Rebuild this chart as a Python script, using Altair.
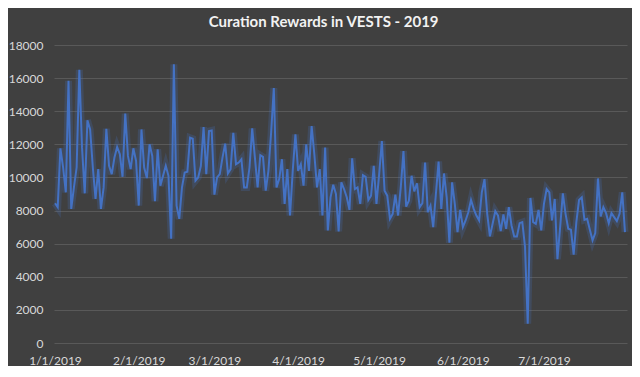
import altair as alt
import pandas as pd

jan = [8440, 8200, 11760, 10600, 9100, 15840, 8100, 9400, 10600, 16500, 11800,
       9040, 13460, 12900, 10600, 8700, 10500, 8100, 9400, 12940, 10700, 10200,
       11200, 11840, 11400, 10040, 13860, 11300, 10500, 11760, 11000]
feb = [8300, 12900, 10600, 9960, 12000, 11300, 8560, 11700, 9500, 10100, 10700,
       10100, 6300, 16840, 8300, 7500, 9400, 10300, 10340, 12400, 12340, 9800,
       10000, 10700, 13040, 10200, 12800, 12840]
mar = [8960, 10000, 10200, 11200, 12040, 10240, 10500, 12700, 10800, 10900, 11100,
       9400, 9400, 10600, 12960, 11200, 9400, 11340, 11240, 9200, 10400, 12700,
       15400, 9400, 9900, 11100, 8400, 10500, 7700, 10400, 12600]
apr = [10400, 10800, 9500, 12000, 10400, 13100, 11400, 9400, 10500, 7700, 11800,
       6800, 8800, 9560, 9000, 6740, 9700, 9300, 8800, 8040, 11160, 9300, 9400,
       8400, 10140, 10040, 8640, 8900, 10700, 8400]
may = [10200, 12200, 9200, 8900, 7500, 7800, 8960, 7700, 9400, 11600, 8240, 8600,
       10100, 9160, 9640, 8200, 8440, 10900, 7900, 8300, 7000, 9000, 10960, 8100,
       10240, 8800, 6060, 9700, 8400, 6700, 8040]
jun = [7000, 7400, 7900, 8640, 8100, 7700, 7400, 9100, 9900, 7800, 6440, 7200,
       7960, 7700, 6760, 7760, 6900, 8200, 7100, 6440, 6440, 7240, 7300, 5800,
       1160, 8760, 7300, 7200, 8040, 6800]
jul = [8400, 9300, 9100, 7400, 8700, 5060, 7000, 9040, 7800, 6900, 6840, 5340,
       7300, 8640, 8800, 7440, 7500, 6840, 6200, 6640, 9940, 7640, 8200, 7840,
       7240, 7840, 7600, 7360, 7800, 9100, 6700]

y_ticks = [0, 2000, 4000, 6000, 8000, 10000, 12000, 14000, 16000, 18000]
x_tick_months = [1, 2, 3, 4, 5, 6, 7]

values = jan + feb + mar + apr + may + jun + jul
dates = pd.date_range("2019-01-01", periods=len(values), freq="D").strftime("%Y-%m-%d")
df = pd.DataFrame({"date": list(dates), "vests": values})

BG = "#404040"
LINE = "#4472C4"
TXT = "#D9D9D9"
GRID = "#595959"
FONT = "Lato"

x_enc = alt.X(
    "date:T",
    scale=alt.Scale(
        type="utc",
        domain=[alt.DateTime(year=2018, month=12, date=31, hours=15, utc=True),
                alt.DateTime(year=2019, month=7, date=31, hours=18, utc=True)],
    ),
    axis=alt.Axis(
        values=[alt.DateTime(year=2019, month=m, date=1, utc=True) for m in x_tick_months],
        format="%-m/%-d/%Y",
        title=None,
        grid=False,
        domain=False,
        ticks=False,
        labelColor=TXT,
        labelFont=FONT,
        labelFontSize=12,
        labelPadding=12,
        labelFlush=False,
    ),
)
y_enc = alt.Y(
    "vests:Q",
    scale=alt.Scale(domain=[0, 18000], nice=False, zero=True),
    axis=alt.Axis(
        values=y_ticks,
        format="d",
        title=None,
        domain=False,
        ticks=False,
        grid=True,
        gridColor=GRID,
        gridWidth=1,
        labelColor=TXT,
        labelFont=FONT,
        labelFontSize=12,
        labelPadding=11,
    ),
)

base = alt.Chart(df)
glow = base.mark_line(color=LINE, strokeWidth=7, opacity=0.22).encode(x=x_enc, y=y_enc)
line = base.mark_line(color=LINE, strokeWidth=2).encode(x=x_enc, y=y_enc)

chart = (
    alt.layer(glow, line)
    .properties(
        width=573,
        height=298,
        autosize=alt.AutoSizeParams(type="none"),
        padding={"left": 46, "top": 37, "right": 5, "bottom": 23},
        background=BG,
        title=alt.TitleParams(
            "Curation Rewards in VESTS - 2019",
            color="#F2F2F2",
            font=FONT,
            fontSize=15,
            fontWeight="bold",
            anchor="middle",
            frame="bounds",
            offset=9,
        ),
    )
    .configure_view(stroke=None)
)

chart.save("out.html", embed_options={"renderer": "svg", "actions": False})
